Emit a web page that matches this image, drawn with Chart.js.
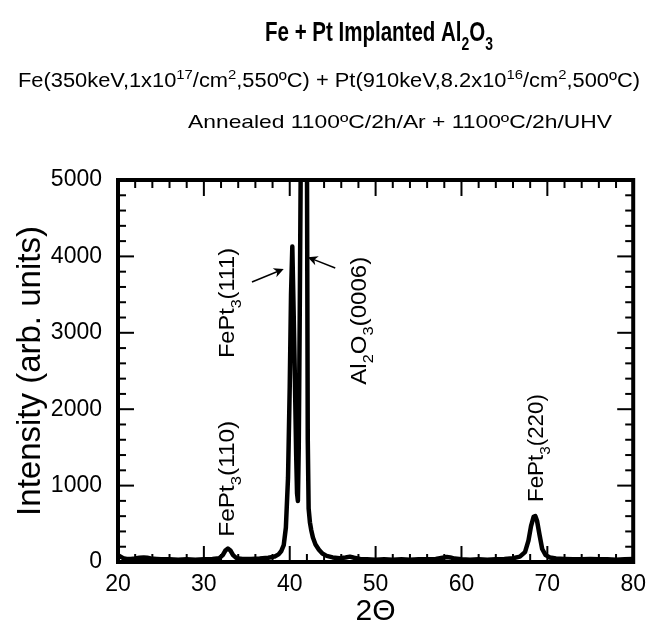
<!DOCTYPE html>
<html>
<head>
<meta charset="utf-8">
<script src="https://cdn.jsdelivr.net/npm/chart.js@4.4.0/dist/chart.umd.min.js"></script>
<style>
  html, body { margin: 0; padding: 0; background: #fff; }
  #wrap { width: 655px; height: 632px; }
</style>
</head>
<body>
<div id="wrap"><canvas id="xrd" width="655" height="632"></canvas></div>
<script>
// XRD scan
const twoTheta = [
  20.0, 20.3, 20.6, 21.0, 21.5, 22.0, 22.5, 23.0, 23.4, 23.8, 24.5, 25.0, 26.0, 27.0, 28.0,
  29.0, 30.0, 31.0, 31.8, 32.2, 32.5, 32.8, 33.1, 33.4, 33.8, 34.5, 35.5, 36.5, 37.5, 38.2,
  38.7, 39.0, 39.3, 39.55, 39.8, 40.0, 40.15, 40.3, 40.45, 40.6, 40.75, 40.85, 40.95, 41.05, 41.15,
  41.3, 41.5, 41.8, 42.0, 42.1, 42.2, 42.35, 42.5, 42.7, 43.0, 43.4, 43.8, 44.3, 45.0, 45.8,
  46.5, 47.0, 47.5, 48.2, 49.0, 50.0, 51.0, 52.0, 53.0, 54.0, 55.0, 56.0, 57.0, 57.8, 58.3,
  58.7, 59.2, 60.0, 61.0, 62.0, 63.0, 64.0, 65.0, 66.0, 66.8, 67.4, 67.8, 68.1, 68.4, 68.6,
  68.8, 69.1, 69.4, 69.8, 70.3, 71.0, 72.0, 73.0, 74.0, 75.0, 76.0, 77.0, 78.0, 79.0, 80.0
];
const intensity = [
  90, 70, 50, 40, 40, 45, 55, 60, 55, 45, 40, 35, 35, 30, 35,
  30, 35, 40, 50, 90, 150, 175, 150, 90, 50, 40, 40, 45, 55, 70,
  100, 140, 220, 450, 1100, 2300, 3500, 4130, 3300, 2400, 1400, 900, 800, 1500, 3000,
  5500, 8000, 8000, 5500, 1600, 700, 520, 420, 320, 230, 160, 110, 80, 60, 50,
  60, 70, 55, 40, 35, 30, 35, 30, 35, 30, 35, 35, 40, 55, 65,
  60, 45, 35, 30, 35, 30, 35, 40, 50, 70, 130, 280, 470, 590, 600,
  540, 350, 170, 90, 60, 45, 40, 35, 35, 40, 35, 35, 30, 35, 40
];
const xTickValues = [20, 30, 40, 50, 60, 70, 80];
const yTickValues = [0, 1000, 2000, 3000, 4000, 5000];

const FONT = '"Liberation Sans", Arial, Helvetica, sans-serif';

const titleParts = [{t: 'Fe + Pt Implanted Al'}, {t: '2', s: 'sub'}, {t: 'O'}, {t: '3', s: 'sub'}];
const line1Parts = [
  {t: 'Fe(350keV,1x10'}, {t: '17', s: 'sup'}, {t: '/cm'}, {t: '2', s: 'sup'},
  {t: ',550ºC) + Pt(910keV,8.2x10'}, {t: '16', s: 'sup'}, {t: '/cm'}, {t: '2', s: 'sup'}, {t: ',500ºC)'}
];
const line2Parts = [{t: 'Annealed 1100ºC/2h/Ar + 1100ºC/2h/UHV'}];

// peak labels, anchored in data units (x = 2theta, y = intensity), written upwards
const peakLabels = [
  {parts: [{t: 'FePt'}, {t: '3', s: 'sub'}, {t: '(110)'}], x: 33.5, y: 330, len: 116},
  {parts: [{t: 'FePt'}, {t: '3', s: 'sub'}, {t: '(111)'}], x: 33.5, y: 2670, len: 110},
  {parts: [{t: 'Al'}, {t: '2', s: 'sub'}, {t: 'O'}, {t: '3', s: 'sub'}, {t: '(0006)'}], x: 48.9, y: 2320, len: 128},
  {parts: [{t: 'FePt'}, {t: '3', s: 'sub'}, {t: '(220)'}], x: 69.5, y: 785, len: 108}
];
const arrows = [
  {from: [35.6, 3665], to: [39.3, 3835]},
  {from: [45.3, 3848], to: [42.1, 3990]}
];

function layoutRich(ctx, parts, size, weight) {
  let w = 0;
  const runs = parts.map(p => {
    const s = p.s ? size * 0.68 : size;
    ctx.font = weight + ' ' + s + 'px ' + FONT;
    const r = {t: p.t, font: ctx.font, dx: w, dy: p.s === 'sub' ? size * 0.33 : (p.s === 'sup' ? -size * 0.42 : 0)};
    w += ctx.measureText(p.t).width;
    return r;
  });
  return {runs, width: w};
}

function drawRich(ctx, parts, o) {
  const {runs, width} = layoutRich(ctx, parts, o.size, o.weight || 'normal');
  const sx = o.width ? o.width / width : 1;
  ctx.save();
  ctx.translate(o.x, o.y);
  if (o.rotate) ctx.rotate(o.rotate);
  ctx.scale(sx, 1);
  ctx.fillStyle = '#000';
  ctx.textAlign = 'left';
  ctx.textBaseline = 'alphabetic';
  runs.forEach(r => { ctx.font = r.font; ctx.fillText(r.t, r.dx, r.dy); });
  ctx.restore();
}

function line(ctx, x1, y1, x2, y2) {
  ctx.beginPath(); ctx.moveTo(x1, y1); ctx.lineTo(x2, y2); ctx.stroke();
}

const frameAndTicks = {
  id: 'frameAndTicks',
  afterDatasetsDraw(chart) {
    const {ctx, chartArea: a, scales: {x, y}} = chart;
    ctx.save();
    ctx.strokeStyle = '#000';
    ctx.lineWidth = 2;
    for (let v = 20; v <= 80; v += 2) {
      const px = x.getPixelForValue(v);
      const len = v % 10 === 0 ? 16 : 8;
      line(ctx, px, a.bottom, px, a.bottom - len);
      line(ctx, px, a.top, px, a.top + len);
    }
    for (let v = 0; v <= 5000; v += 200) {
      const py = y.getPixelForValue(v);
      const len = v % 1000 === 0 ? 16 : 8;
      line(ctx, a.left, py, a.left + len, py);
      line(ctx, a.right, py, a.right - len, py);
    }
    ctx.lineWidth = 4;
    ctx.strokeRect(a.left, a.top, a.right - a.left, a.bottom - a.top);
    ctx.restore();
  },
  afterDraw(chart) {
    const {ctx, scales: {x, y}} = chart;
    drawRich(ctx, titleParts, {x: 265, y: 41, size: 28, weight: 'bold', width: 228});
    drawRich(ctx, line1Parts, {x: 18, y: 87, size: 20, width: 622});
    drawRich(ctx, line2Parts, {x: 188, y: 128, size: 19, width: 424});

    peakLabels.forEach(l => {
      drawRich(ctx, l.parts, {x: x.getPixelForValue(l.x), y: y.getPixelForValue(l.y), size: 22, width: l.len, rotate: -Math.PI / 2});
    });

    ctx.save();
    ctx.strokeStyle = '#000';
    ctx.fillStyle = '#000';
    ctx.lineWidth = 1.5;
    arrows.forEach(ar => {
      const x1 = x.getPixelForValue(ar.from[0]), y1 = y.getPixelForValue(ar.from[1]);
      const x2 = x.getPixelForValue(ar.to[0]), y2 = y.getPixelForValue(ar.to[1]);
      const ang = Math.atan2(y2 - y1, x2 - x1);
      line(ctx, x1, y1, x2 - 6 * Math.cos(ang), y2 - 6 * Math.sin(ang));
      ctx.beginPath();
      ctx.moveTo(x2, y2);
      ctx.lineTo(x2 - 11 * Math.cos(ang - 0.45), y2 - 11 * Math.sin(ang - 0.45));
      ctx.lineTo(x2 - 7 * Math.cos(ang), y2 - 7 * Math.sin(ang));
      ctx.lineTo(x2 - 11 * Math.cos(ang + 0.45), y2 - 11 * Math.sin(ang + 0.45));
      ctx.closePath();
      ctx.fill();
    });
    ctx.restore();
  }
};

new Chart(document.getElementById('xrd'), {
  type: 'line',
  data: {
    datasets: [{
      data: twoTheta.map((t, i) => ({x: t, y: intensity[i]})),
      borderColor: '#000',
      borderWidth: 4.5,
      borderJoinStyle: 'round',
      pointRadius: 0,
      fill: false,
      tension: 0,
      clip: 0
    }]
  },
  options: {
    responsive: false,
    animation: false,
    devicePixelRatio: 1,
    layout: {padding: {top: 180, right: 18, left: 0, bottom: 0}},
    plugins: {legend: {display: false}, tooltip: {enabled: false}},
    scales: {
      x: {
        type: 'linear', min: 20, max: 80,
        afterBuildTicks: s => { s.ticks = xTickValues.map(v => ({value: v})); },
        afterFit: s => { s.height = 70; },
        grid: {display: false, drawTicks: false},
        border: {display: false},
        ticks: {color: '#000', padding: 9, maxRotation: 0, font: {family: FONT, size: 23}, callback: v => String(v)},
        title: {display: true, text: '2Θ', color: '#000', padding: {top: 0, bottom: 2}, font: {family: FONT, size: 30}}
      },
      y: {
        type: 'linear', min: 0, max: 5000,
        afterBuildTicks: s => { s.ticks = yTickValues.map(v => ({value: v})); },
        afterFit: s => { s.width = 118; },
        grid: {display: false, drawTicks: false},
        border: {display: false},
        ticks: {color: '#000', padding: 16, font: {family: FONT, size: 23}, callback: v => String(v)},
        title: {display: true, text: 'Intensity (arb. units)', color: '#000', padding: {top: 11, bottom: 0}, font: {family: FONT, size: 33}}
      }
    }
  },
  plugins: [frameAndTicks]
});
</script>
</body>
</html>
